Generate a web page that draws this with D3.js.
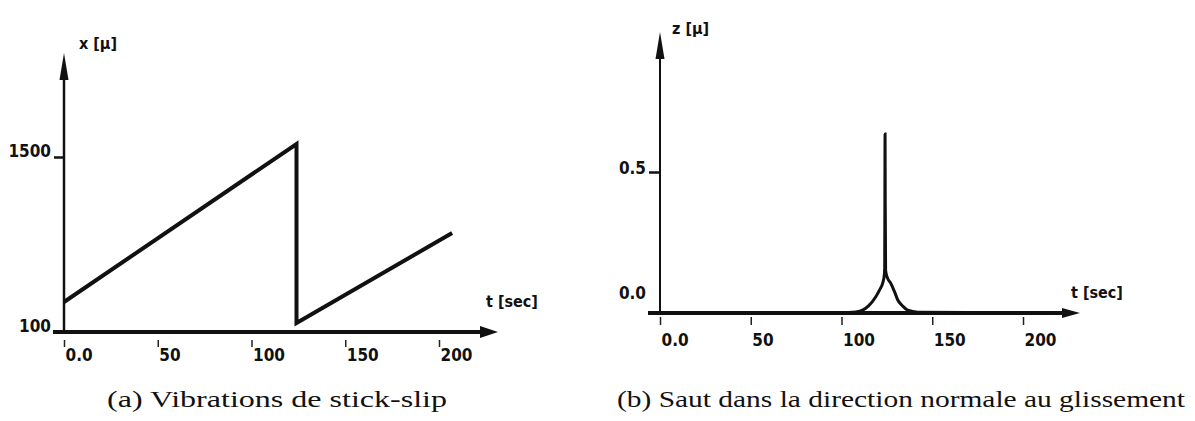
<!DOCTYPE html>
<html>
<head>
<meta charset="utf-8">
<script src="https://cdn.jsdelivr.net/npm/d3@7"></script>
<style>
  body { margin: 0; background: #fff; }
  .hand { font-family: "DejaVu Sans Condensed", "DejaVu Sans", sans-serif; font-weight: bold; fill: #111; }
  .caption { font-family: "Liberation Serif", "Tinos", "Times New Roman", "Noto Serif", serif; font-size: 24px; fill: #111; }
</style>
</head>
<body>
<svg id="fig" width="1195" height="421"></svg>
<script>
// ---- data ----
// (a) stick-slip : position x [mu] vs time t [sec]
var slipT = [0, 124, 124, 207];
var slipX = [340, 1604, 172, 892];
// (b) normal jump : z [mu] vs time t [sec]
var jumpT = [0, 100, 108, 111.6, 114.9, 118.8, 121, 122.7, 123.5, 123.8, 123.9, 124,
             124.1, 124.3, 125.1, 127.1, 129.3, 131, 133.7, 136.5, 142, 215];
var jumpZ = [0, 0.001, 0.004, 0.01, 0.025, 0.057, 0.082, 0.106, 0.131, 0.152, 0.40, 0.635,
             0.40, 0.152, 0.128, 0.106, 0.074, 0.046, 0.025, 0.01, 0.003, 0];

var timeTicks = [0, 50, 100, 150, 200];
var timeLabels = ["0.0", "50", "100", "150", "200"];
var slipTicks = [100, 1500];
var slipLabels = ["100", "1500"];
var jumpTicks = [0, 0.5];
var jumpLabels = ["0.0", "0.5"];

var captionA = "(a) Vibrations de stick-slip";
var captionB = "(b) Saut dans la direction normale au glissement";

var svg = d3.select("#fig");

// arrow head pointing up or right
function arrowHead(g, x, y, dir, len, half) {
  var p = dir == "up"
    ? [[x, y], [x - half, y + len], [x + half, y + len]]
    : [[x, y], [x - len, y - half], [x - len, y + half]];
  g.append("path").attr("d", "M" + p.join("L") + "Z").attr("fill", "#111");
}

function drawPanel(opt) {
  var g = svg.append("g");
  var x = opt.x, y = opt.y;
  var x0 = x.range()[0], y0 = y(opt.yBase);

  // x axis with arrow
  g.append("line")
    .attr("x1", opt.xAxisStart).attr("x2", opt.xArrowTip - 10)
    .attr("y1", y0).attr("y2", y0)
    .attr("stroke", "#111").attr("stroke-width", 4);
  arrowHead(g, opt.xArrowTip, y0, "right", 18, opt.xArrowHalf);

  // y axis with arrow
  g.append("line")
    .attr("x1", x0).attr("x2", x0)
    .attr("y1", y0 + 1).attr("y2", opt.yArrowTip + 20)
    .attr("stroke", "#111").attr("stroke-width", opt.yAxisWidth);
  arrowHead(g, x0, opt.yArrowTip, "up", 27, 4.5);

  // bottom ticks + labels
  var xAxis = d3.axisBottom(x)
    .tickValues(timeTicks)
    .tickFormat(function(d, i) { return timeLabels[i]; })
    .tickSize(0);
  g.append("g")
    .attr("transform", "translate(0," + y0 + ")")
    .call(xAxis)
    .call(function(s) { s.select(".domain").remove(); })
    .call(function(s) {
      s.selectAll(".tick line")
        .attr("y1", opt.xTickY[0]).attr("y2", opt.xTickY[1])
        .attr("stroke", "#222").attr("stroke-width", 1.5);
    })
    .call(function(s) {
      s.selectAll(".tick text")
        .attr("class", "hand")
        .attr("font-size", 17)
        .attr("text-anchor", "start")
        .attr("x", 1).attr("y", opt.xLabelY).attr("dy", 0)
        .attr("fill", "#111");
    });

  // left ticks + labels
  var yAxis = d3.axisLeft(y)
    .tickValues(opt.yTicks)
    .tickFormat(function(d, i) { return opt.yLabels[i]; })
    .tickSize(opt.yTickSize)
    .tickPadding(3);
  g.append("g")
    .attr("transform", "translate(" + x0 + ",0)")
    .call(yAxis)
    .call(function(s) { s.select(".domain").remove(); })
    .call(function(s) {
      s.selectAll(".tick line").attr("stroke", "#111").attr("stroke-width", 2.5);
    })
    .call(function(s) {
      s.selectAll(".tick text")
        .attr("class", "hand")
        .attr("font-size", 17)
        .attr("fill", "#111")
        .attr("dy", 0)
        .attr("y", function(d) { return opt.yLabelShift(d); });
    });

  // axis titles
  g.append("text").attr("class", "hand").attr("font-size", 16)
    .attr("x", opt.yTitle[0]).attr("y", opt.yTitle[1]).text(opt.yTitleText);
  g.append("text").attr("class", "hand").attr("font-size", 16)
    .attr("x", opt.xTitle[0]).attr("y", opt.xTitle[1]).text("t [sec]");

  // data line
  var line = d3.line()
    .x(function(d) { return x(d[0]); })
    .y(function(d) { return y(d[1]); })
    .curve(opt.curve);
  g.append("path")
    .datum(opt.data)
    .attr("d", line)
    .attr("fill", "none")
    .attr("stroke", "#111")
    .attr("stroke-width", opt.lineWidth)
    .attr("stroke-linejoin", "miter");

  // caption
  svg.append("text")
    .attr("class", "caption")
    .attr("x", opt.caption[0]).attr("y", 407)
    .attr("text-anchor", "middle")
    .attr("textLength", opt.caption[1])
    .attr("lengthAdjust", "spacingAndGlyphs")
    .text(opt.captionText);
}

// (a)
drawPanel({
  x: d3.scaleLinear().domain([0, 200]).range([64, 439]),
  y: d3.scaleLinear().domain([100, 1500]).range([332, 157]),
  yBase: 100,
  xAxisStart: 53, xArrowTip: 498, xArrowHalf: 6,
  yArrowTip: 53, yAxisWidth: 2.5,
  xTickY: [8, 15], xLabelY: 29,
  yTicks: slipTicks, yLabels: slipLabels, yTickSize: 10,
  yLabelShift: function(d) { return -1; },
  yTitle: [79, 49], yTitleText: "x [\u03bc]",
  xTitle: [486, 307],
  data: slipT.map(function(t, i) { return [t, slipX[i]]; }),
  curve: d3.curveLinear, lineWidth: 4,
  caption: [277, 340], captionText: captionA
});

// (b)
drawPanel({
  x: d3.scaleLinear().domain([0, 200]).range([660, 1023]),
  y: d3.scaleLinear().domain([0, 0.5]).range([313, 172]),
  yBase: 0,
  xAxisStart: 648, xArrowTip: 1080, xArrowHalf: 5,
  yArrowTip: 32, yAxisWidth: 2,
  xTickY: [4, 12], xLabelY: 33,
  yTicks: jumpTicks, yLabels: jumpLabels, yTickSize: 11,
  yLabelShift: function(d) { return d == 0 ? -15 : 1; },
  yTitle: [672, 34], yTitleText: "z [\u03bc]",
  xTitle: [1071, 298],
  data: jumpT.map(function(t, i) { return [t, jumpZ[i]]; }),
  curve: d3.curveMonotoneX, lineWidth: 3,
  caption: [901, 568], captionText: captionB
});
</script>
</body>
</html>
